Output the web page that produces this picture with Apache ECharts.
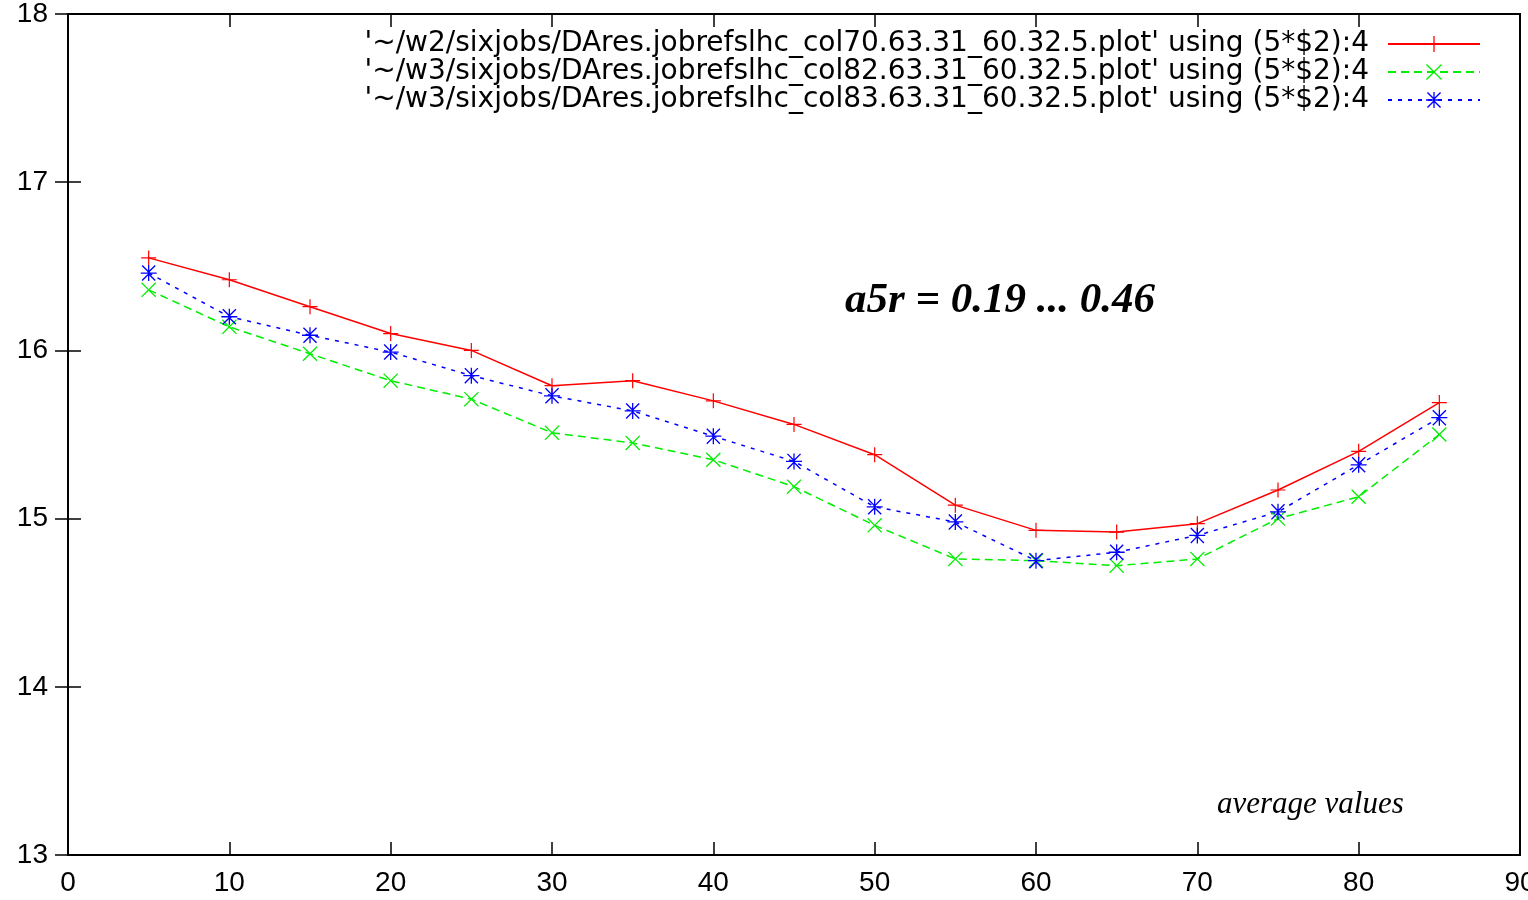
<!DOCTYPE html>
<html>
<head>
<meta charset="utf-8">
<script src="https://cdn.jsdelivr.net/npm/echarts@6/dist/echarts.min.js"></script>
<style>html,body{margin:0;padding:0;background:#fff;}#c{width:1528px;height:900px;}</style>
</head>
<body>
<div id="c"></div>
<script>
const xValues = [5,10,15,20,25,30,35,40,45,50,55,60,65,70,75,80,85];
const redValues = [16.55,16.42,16.26,16.10,16.00,15.79,15.82,15.70,15.56,15.38,15.08,14.93,14.92,14.97,15.17,15.40,15.69];
const greenValues = [16.36,16.14,15.98,15.82,15.71,15.51,15.45,15.35,15.19,14.96,14.76,14.75,14.72,14.76,15.00,15.13,15.50];
const blueValues = [16.46,16.20,16.09,15.99,15.85,15.73,15.64,15.49,15.34,15.07,14.98,14.75,14.80,14.90,15.04,15.32,15.60];
const seriesNames = [
  "'~/w2/sixjobs/DAres.jobrefslhc_col70.63.31_60.32.5.plot' using (5*$2):4",
  "'~/w3/sixjobs/DAres.jobrefslhc_col82.63.31_60.32.5.plot' using (5*$2):4",
  "'~/w3/sixjobs/DAres.jobrefslhc_col83.63.31_60.32.5.plot' using (5*$2):4"
];
const annotation = 'a5r = 0.19 ... 0.46';
const footNote = 'average values';

const plusPath = 'path://M4.6,0H5.4V4.6H10V5.4H5.4V10H4.6V5.4H0V4.6H4.6Z';
const crossPath = 'path://M0,0.6L0.6,0L5,4.4L9.4,0L10,0.6L5.6,5L10,9.4L9.4,10L5,5.6L0.6,10L0,9.4L4.4,5Z';
const starPath = 'path://M4.6,0H5.4V4.6H10V5.4H5.4V10H4.6V5.4H0V4.6H4.6Z M0.6,0.6L1.2,0L5,3.8L8.8,0L9.4,0.6L5.6,4.4L5.6,5.6L9.4,9.4L8.8,10L5,6.2L1.2,10L0.6,9.4L4.4,5.6L4.4,4.4Z';

function pairs(ys){ return xValues.map((x,i)=>[x, ys[i]]); }

const chart = echarts.init(document.getElementById('c'));
const axisLabelFont = {fontFamily:'Liberation Sans', color:'#000', fontSize:28};
const tickStyle = {inside:true, length:13, lineStyle:{color:'#000', width:1.5}};
chart.setOption({
  animation:false,
  backgroundColor:'#fff',
  grid:{left:68, right:8, top:14, bottom:45, containLabel:false, outerBoundsMode:'none',
        show:true, borderColor:'#000', borderWidth:2, backgroundColor:'transparent'},
  legend:{
    right:42, top:25, orient:'vertical', align:'right',
    itemWidth:92, itemHeight:20, itemGap:0,
    textStyle:{fontFamily:'DejaVu Sans', fontSize:28, lineHeight:27.5, color:'#000', padding:[0,14,0,0]},
    data: seriesNames
  },
  xAxis:[
    {type:'value', min:0, max:90, interval:10, position:'bottom',
     axisLine:{show:false}, splitLine:{show:false}, axisTick:tickStyle,
     axisLabel:Object.assign({margin:14}, axisLabelFont)},
    {type:'value', min:0, max:90, interval:10, position:'top',
     axisLine:{show:false}, splitLine:{show:false}, axisTick:tickStyle,
     axisLabel:{show:false}}
  ],
  yAxis:[
    {type:'value', min:13, max:18, interval:1, position:'left',
     axisLine:{show:false}, splitLine:{show:false}, axisTick:tickStyle,
     axisLabel:Object.assign({margin:20}, axisLabelFont)},
    {type:'value', min:13, max:18, interval:1, position:'right',
     axisLine:{show:false}, splitLine:{show:false}, axisTick:tickStyle,
     axisLabel:{show:false}}
  ],
  series:[
    {name:seriesNames[0], type:'line', data:pairs(redValues), symbol:plusPath, symbolSize:15,
     lineStyle:{color:'#ff0000', width:1.5, type:'solid'}, itemStyle:{color:'#ff0000'}, color:'#ff0000'},
    {name:seriesNames[1], type:'line', data:pairs(greenValues), symbol:crossPath, symbolSize:15,
     lineStyle:{color:'#00ee00', width:1.5, type:[8,5]}, itemStyle:{color:'#00ee00'}, color:'#00ee00'},
    {name:seriesNames[2], type:'line', data:pairs(blueValues), symbol:starPath, symbolSize:16,
     lineStyle:{color:'#0000ff', width:1.5, type:[4,6]}, itemStyle:{color:'#0000ff'}, color:'#0000ff'}
  ],
  graphic:[
    {type:'text', left:845, top:279, style:{text:annotation, font:'italic bold 43px "Liberation Serif"', fill:'#000'}},
    {type:'text', left:1217, top:789, style:{text:footNote, font:'italic 31px "Liberation Serif"', fill:'#000'}}
  ]
});
</script>
</body>
</html>
